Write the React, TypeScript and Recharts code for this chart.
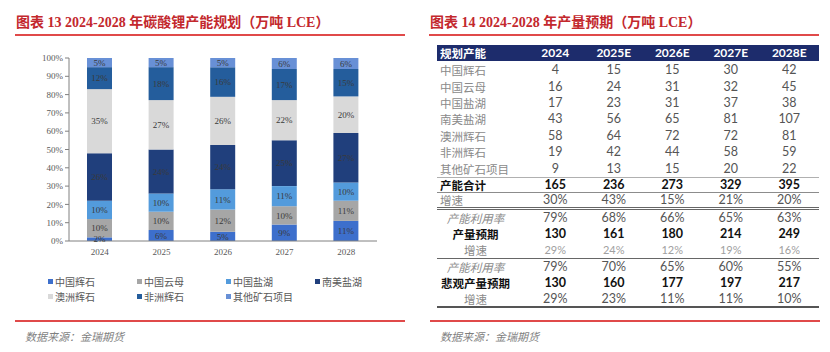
import React from "react";
import { BarChart, Bar, XAxis, YAxis, LabelList } from "recharts";

// left chart: share of each source (%) by year
const years = ["2024", "2025", "2026", "2027", "2028"];
const shareCnSpodumene = [2, 6, 5, 9, 11];
const shareCnLepidolite = [10, 10, 12, 10, 11];
const shareCnBrine = [10, 10, 11, 11, 10];
const shareSaBrine = [26, 24, 24, 25, 27];
const shareAuSpodumene = [35, 27, 26, 22, 20];
const shareAfSpodumene = [12, 18, 16, 17, 15];
const shareOther = [5, 5, 5, 6, 6];
const yTicks = [0, 0.1, 0.2, 0.3, 0.4, 0.5, 0.6, 0.7, 0.8, 0.9, 1];

// right table
const tableYears = ["2024", "2025E", "2026E", "2027E", "2028E"];
const capCnSpodumene = [4, 15, 15, 30, 42];
const capCnLepidolite = [16, 24, 31, 32, 45];
const capCnBrine = [17, 23, 31, 37, 38];
const capSaBrine = [43, 56, 65, 81, 107];
const capAuSpodumene = [58, 64, 72, 72, 81];
const capAfSpodumene = [19, 42, 44, 58, 59];
const capOther = [9, 13, 15, 20, 22];
const capTotal = [165, 236, 273, 329, 395];
const capGrowth = ["30%", "43%", "15%", "21%", "20%"];
const utilBase = ["79%", "68%", "66%", "65%", "63%"];
const outputBase = [130, 161, 180, 214, 249];
const outputBaseGrowth = ["29%", "24%", "12%", "19%", "16%"];
const utilBear = ["79%", "70%", "65%", "60%", "55%"];
const outputBear = [130, 160, 177, 197, 217];
const outputBearGrowth = ["29%", "23%", "11%", "11%", "10%"];

const series = [
  { key: "cnSpod", name: "中国辉石", values: shareCnSpodumene, cap: capCnSpodumene, color: "#3d6fcc" },
  { key: "cnLepi", name: "中国云母", values: shareCnLepidolite, cap: capCnLepidolite, color: "#a6a6a6" },
  { key: "cnBrine", name: "中国盐湖", values: shareCnBrine, cap: capCnBrine, color: "#539bdc" },
  { key: "saBrine", name: "南美盐湖", values: shareSaBrine, cap: capSaBrine, color: "#203f7c" },
  { key: "auSpod", name: "澳洲辉石", values: shareAuSpodumene, cap: capAuSpodumene, color: "#d9d9d9" },
  { key: "afSpod", name: "非洲辉石", values: shareAfSpodumene, cap: capAfSpodumene, color: "#245d9c" },
  { key: "other", name: "其他矿石项目", values: shareOther, cap: capOther, color: "#6890d6" },
];

const chartData = years.map((y, i) => {
  const row: Record<string, string | number> = { year: y };
  series.forEach((s) => (row[s.key] = s.values[i]));
  return row;
});

const RED = "#e04a4a";
const TITLE = "#c3282d";
const serif = '"Liberation Serif", "Noto Sans CJK SC", serif';
const cjk = '"Noto Sans CJK SC", sans-serif';
const num = 'Lato, "Noto Sans CJK SC", sans-serif';

const ROW_H = 16.4;

type Row = {
  label: string;
  cells: (string | number)[];
  labelAlign?: "left" | "center";
  bold?: boolean;
  italicLabel?: boolean;
  color?: string;
  small?: boolean;
  borderTop?: string;
  borderBottom?: string;
};

const tableRows: Row[] = [
  ...series.map((s) => ({ label: s.name, cells: s.cap })),
  { label: "产能合计", cells: capTotal, bold: true, borderTop: "1px solid #b0b0b0", borderBottom: "1px solid #8c8c8c" },
  { label: "增速", cells: capGrowth, borderBottom: "3px double #666" },
  { label: "产能利用率", cells: utilBase, labelAlign: "center", italicLabel: true },
  { label: "产量预期", cells: outputBase, labelAlign: "center", bold: true },
  { label: "增速", cells: outputBaseGrowth, labelAlign: "center", color: "#a0a0a0", small: true, borderBottom: "1px solid #666" },
  { label: "产能利用率", cells: utilBear, labelAlign: "center", italicLabel: true },
  { label: "悲观产量预期", cells: outputBear, labelAlign: "center", bold: true },
  { label: "增速", cells: outputBearGrowth, labelAlign: "center", borderBottom: "2px solid #555" },
];

function Title({ x, text }: { x: number; text: string }) {
  return (
    <>
      <div
        style={{
          position: "absolute",
          left: x,
          top: 11,
          fontFamily: serif,
          fontWeight: 700,
          fontSize: 14,
          color: TITLE,
          whiteSpace: "nowrap",
        }}
      >
        {text}
      </div>
      <div style={{ position: "absolute", left: x - 1, top: 34, width: 390, height: 2, background: RED }} />
    </>
  );
}

function Source({ x }: { x: number }) {
  return (
    <>
      <div style={{ position: "absolute", left: x - 10, top: 320, width: 390, height: 2, background: RED }} />
      <div
        style={{
          position: "absolute",
          left: x,
          top: 328,
          fontFamily: cjk,
          fontStyle: "italic",
          fontSize: 11,
          color: "#7f7f7f",
        }}
      >
        数据来源：金瑞期货
      </div>
    </>
  );
}

export default function App() {
  return (
    <div style={{ position: "relative", width: 830, height: 352, background: "#fff", overflow: "hidden" }}>
      <style>{`body{margin:0}`}</style>
      <Title x={16} text="图表 13 2024-2028 年碳酸锂产能规划（万吨 LCE）" />
      <Title x={430} text="图表 14 2024-2028 年产量预期（万吨 LCE）" />

      <div style={{ position: "absolute", left: 0, top: 0 }}>
        <BarChart
          width={415}
          height={265}
          data={chartData}
          stackOffset="expand"
          margin={{ top: 58, right: 38, bottom: 4, left: 0 }}
        >
          <XAxis
            dataKey="year"
            height={20}
            tickLine={false}
            axisLine={{ stroke: "#808080" }}
            tick={{ fontFamily: serif, fontSize: 9, fill: "#595959" }}
          />
          <YAxis
            width={69}
            ticks={yTicks}
            domain={[0, 1]}
            tickSize={4}
            tickFormatter={(v: number) => `${Math.round(v * 100)}%`}
            axisLine={{ stroke: "#808080" }}
            tickLine={{ stroke: "#808080" }}
            tick={{ fontFamily: serif, fontSize: 9, fill: "#595959" }}
          />
          {series.map((s) => (
            <Bar key={s.key} dataKey={s.key} name={s.name} stackId="a" fill={s.color} barSize={25} isAnimationActive={false}>
              <LabelList
                dataKey={s.key}
                position="center"
                formatter={(v: number) => `${v}%`}
                style={{ fontFamily: serif, fontSize: 9, fill: "#3a3a3a" }}
              />
            </Bar>
          ))}
        </BarChart>
      </div>

      {/* legend */}
      <div
        style={{
          position: "absolute",
          left: 48,
          top: 274,
          width: 360,
          display: "grid",
          gridTemplateColumns: "89px 89px 89px 89px",
          rowGap: 1,
          fontFamily: cjk,
          fontSize: 10,
          color: "#595959",
        }}
      >
        {series.map((s) => (
          <div key={s.key} style={{ display: "flex", alignItems: "center", height: 14 }}>
            <span style={{ width: 5, height: 5, background: s.color, marginRight: 2 }} />
            {s.name}
          </div>
        ))}
      </div>

      {/* table */}
      <div style={{ position: "absolute", left: 437, top: 45, width: 382 }}>
        <div
          style={{
            display: "flex",
            height: 16,
            background: "#1d2c6c",
            color: "#fff",
            fontWeight: 700,
            fontSize: 12,
            lineHeight: "14px",
            alignItems: "center",
          }}
        >
          <div style={{ width: 89, paddingLeft: 3, fontFamily: cjk, fontSize: 11.5, boxSizing: "border-box" }}>规划产能</div>
          {tableYears.map((y) => (
            <div key={y} style={{ width: 58.5, textAlign: "center", fontFamily: num }}>
              {y}
            </div>
          ))}
        </div>
        {tableRows.map((r, i) => (
          <div
            key={i}
            style={{
              display: "flex",
              alignItems: "center",
              height: ROW_H,
              lineHeight: "12px",
              boxSizing: "border-box",
              borderTop: r.borderTop,
              borderBottom: r.borderBottom,
              marginTop: i === 0 ? 1 : 0,
            }}
          >
            <div
              style={{
                width: 89,
                paddingLeft: r.labelAlign === "center" ? 0 : 3,
                paddingRight: r.labelAlign === "center" ? 12 : 0,
                textAlign: r.labelAlign ?? "left",
                boxSizing: "border-box",
                fontFamily: cjk,
                fontSize: 11.5,
                fontWeight: r.bold ? 700 : 400,
                fontStyle: r.italicLabel ? "italic" : "normal",
                color: r.bold ? "#111" : "#8a8a8a",
                whiteSpace: "nowrap",
              }}
            >
              {r.label}
            </div>
            {r.cells.map((c, j) => (
              <div
                key={j}
                style={{
                  width: 58.5,
                  textAlign: "center",
                  fontFamily: num,
                  fontSize: r.small ? 11 : 12.5,
                  fontWeight: r.bold ? 700 : 400,
                  color: r.bold ? "#111" : r.color ?? "#555",
                }}
              >
                {c}
              </div>
            ))}
          </div>
        ))}
      </div>

      <Source x={25} />
      <Source x={440} />
    </div>
  );
}
